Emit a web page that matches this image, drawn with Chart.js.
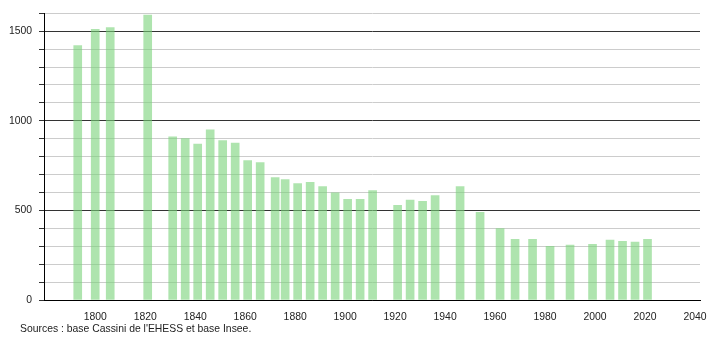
<!DOCTYPE html>
<html>
<head>
<meta charset="utf-8">
<script src="https://cdn.jsdelivr.net/npm/chart.js@4/dist/chart.umd.min.js"></script>
<style>
  html, body { margin: 0; padding: 0; background: #fff; }
  #wrap { width: 710px; height: 340px; position: relative; }
</style>
</head>
<body>
<div id="wrap"><canvas id="c" width="710" height="340"></canvas></div>
<script>
const years = [1793,1800,1806,1821,1831,1836,1841,1846,1851,1856,1861,1866,1872,1876,1881,1886,1891,1896,1901,1906,1911,1921,1926,1931,1936,1946,1954,1962,1968,1975,1982,1990,1999,2006,2011,2016,2021];
const population = [1420,1510,1520,1590,910,900,870,950,890,875,778,767,683,672,650,657,633,598,561,561,611,528,557,550,583,633,489,398,339,339,300,307,311,335,328,323,339];
const xTickYears = [1800,1820,1840,1860,1880,1900,1920,1940,1960,1980,2000,2020,2040];
const yTickValues = [0,100,200,300,400,500,600,700,800,900,1000,1100,1200,1300,1400,1500,1600];
const yLabelValues = [0,500,1000,1500];
const sourceText = "Sources : base Cassini de l'EHESS et base Insee.";

const FONT = "'Liberation Sans', Arial, sans-serif";

const sourcesPlugin = {
  id: 'sources',
  afterDraw(chart) {
    const ctx = chart.ctx;
    ctx.save();
    ctx.font = '10.4px ' + FONT;
    ctx.fillStyle = '#222';
    ctx.textAlign = 'left';
    ctx.textBaseline = 'middle';
    ctx.fillText(sourceText, 20, 329);
    ctx.restore();
  }
};

new Chart(document.getElementById('c'), {
  type: 'bar',
  data: {
    datasets: [{
      data: years.map((y, i) => ({ x: y, y: population[i] })),
      backgroundColor: 'rgba(120,210,120,0.6)',
      borderWidth: 0,
      barThickness: 8
    }]
  },
  options: {
    responsive: false,
    animation: false,
    devicePixelRatio: 1,
    layout: { padding: { top: 11, right: 10, left: 0, bottom: 0 } },
    plugins: { legend: { display: false }, tooltip: { enabled: false } },
    scales: {
      x: {
        type: 'linear',
        offset: false,
        min: 1779.5,
        max: 2042,
        afterBuildTicks: s => { s.ticks = xTickYears.map(v => ({ value: v })); },
        afterFit: s => { s.height = 40; },
        grid: { display: false, offset: false },
        border: { display: true, color: '#000', width: 1 },
        ticks: {
          autoSkip: false,
          maxRotation: 0,
          padding: 3,
          color: '#222',
          font: { family: FONT, size: 10.4 },
          callback: v => String(v)
        }
      },
      y: {
        min: 0,
        max: 1600,
        afterBuildTicks: s => { s.ticks = yTickValues.map(v => ({ value: v })); },
        afterFit: s => { s.width = 44; },
        grid: {
          color: c => (yLabelValues.includes(c.tick.value) ? '#333' : '#cccccc'),
          tickColor: '#333',
          tickLength: 5,
          lineWidth: 1
        },
        border: { display: true, color: '#000', width: 1 },
        ticks: {
          autoSkip: false,
          padding: 7,
          color: '#222',
          font: { family: FONT, size: 10.4 },
          callback: v => (yLabelValues.includes(v) ? String(v) : '')
        }
      }
    }
  },
  plugins: [sourcesPlugin]
});
</script>
</body>
</html>
